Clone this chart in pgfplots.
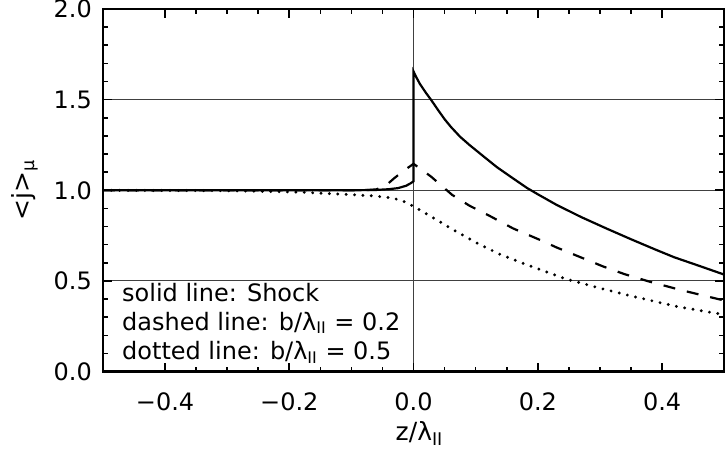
\documentclass[border=0pt]{standalone}
\usepackage{pgfplots}
\pgfplotsset{compat=1.18}
\usepackage{fontspec}
\setmainfont{DejaVu Sans}
\begin{document}
\begin{tikzpicture}
\begin{axis}[
  scale only axis, width=311pt, height=181.5pt,
  xmin=-0.5, xmax=0.5, ymin=0, ymax=2,
  xtick={-0.4,-0.2,0,0.2,0.4}, xticklabels={−0.4,−0.2,0.0,0.2,0.4},
  ytick={0,0.5,1,1.5,2}, yticklabels={0.0,0.5,1.0,1.5,2.0},
  minor x tick num=3, minor y tick num=4,
  tick align=inside, major tick length=4.5pt, minor tick length=2.5pt,
  every tick/.style={black, line width=0.8pt},
  axis line style={line width=1.3pt},
  ymajorgrids, grid style={line width=0.5pt, black!75},
  extra x ticks={0}, extra x tick labels={}, extra x tick style={xmajorgrids=true},
  ticklabel style={font=\fontsize{12}{14}\selectfont},
  xticklabel style={yshift=-7pt},
  yticklabel style={xshift=-2pt},
  xlabel={z/λ\textsubscript{II}}, ylabel={<j>\textsubscript{μ}},
  xlabel style={font=\fontsize{12.5}{14}\selectfont, at={(axis description cs:0.5,0)}, anchor=center, yshift=-31pt, xshift=3pt},
  ylabel style={font=\fontsize{12.5}{14}\selectfont, at={(axis description cs:0,0.5)}, anchor=center, yshift=39pt},
]
% solid: shock
\addplot[black, line width=1.1pt] coordinates {
(-0.5,1.0) (-0.1,1.0) (-0.06,1.002) (-0.04,1.006) (-0.025,1.012) (-0.012,1.025) (-0.004,1.04) (0,1.05) (0,1.655)
(0.005,1.62) (0.01,1.588) (0.02,1.537) (0.028,1.50) (0.04,1.44) (0.05,1.392) (0.06,1.35) (0.075,1.295) (0.09,1.25)
(0.113,1.186) (0.134,1.128) (0.16,1.066) (0.183,1.012)
(0.20,0.978) (0.23,0.92) (0.27,0.852) (0.31,0.79) (0.35,0.73) (0.39,0.672) (0.42,0.63) (0.454,0.59) (0.5,0.535)
};
% dashed: b/lambda = 0.2
\addplot[black, line width=1.1pt, dash pattern=on 6pt off 6pt] coordinates {
(-0.5,1.0) (-0.08,1.0) (-0.06,1.005) (-0.045,1.025) (-0.031,1.067) (-0.015,1.11) (0,1.146) (0.028,1.076) (0.062,0.975)
(0.09,0.915) (0.124,0.856) (0.16,0.79) (0.203,0.727) (0.23,0.685) (0.305,0.58) (0.34,0.537) (0.379,0.497) (0.43,0.45) (0.494,0.397) (0.5,0.393)
};
% dotted: b/lambda = 0.5
\addplot[black, line width=1.6pt, line cap=round, dash pattern=on 0pt off 4.2pt] coordinates {
(-0.5,1.0) (-0.3,0.998) (-0.185,0.99) (-0.105,0.977) (-0.06,0.968) (-0.036,0.958) (-0.02,0.945) (-0.01,0.93) (0,0.911)
(0.028,0.856) (0.06,0.79) (0.102,0.709) (0.14,0.645) (0.182,0.59) (0.246,0.51) (0.30,0.46) (0.342,0.424) (0.422,0.36) (0.5,0.314)
};
\node[anchor=base west, inner sep=0pt, font=\fontsize{12}{14}\selectfont] at (axis cs:-0.4695,0.387) {solid line: Shock};
\node[anchor=base west, inner sep=0pt, font=\fontsize{12}{14}\selectfont] at (axis cs:-0.4695,0.228) {dashed line: b/λ\textsubscript{II} = 0.2};
\node[anchor=base west, inner sep=0pt, font=\fontsize{12}{14}\selectfont] at (axis cs:-0.4695,0.066) {dotted line: b/λ\textsubscript{II} = 0.5};
\end{axis}
\pgfresetboundingbox
\path[use as bounding box] (-51.5pt,-39pt) rectangle (311.4pt,186pt);
\end{tikzpicture}
\end{document}
